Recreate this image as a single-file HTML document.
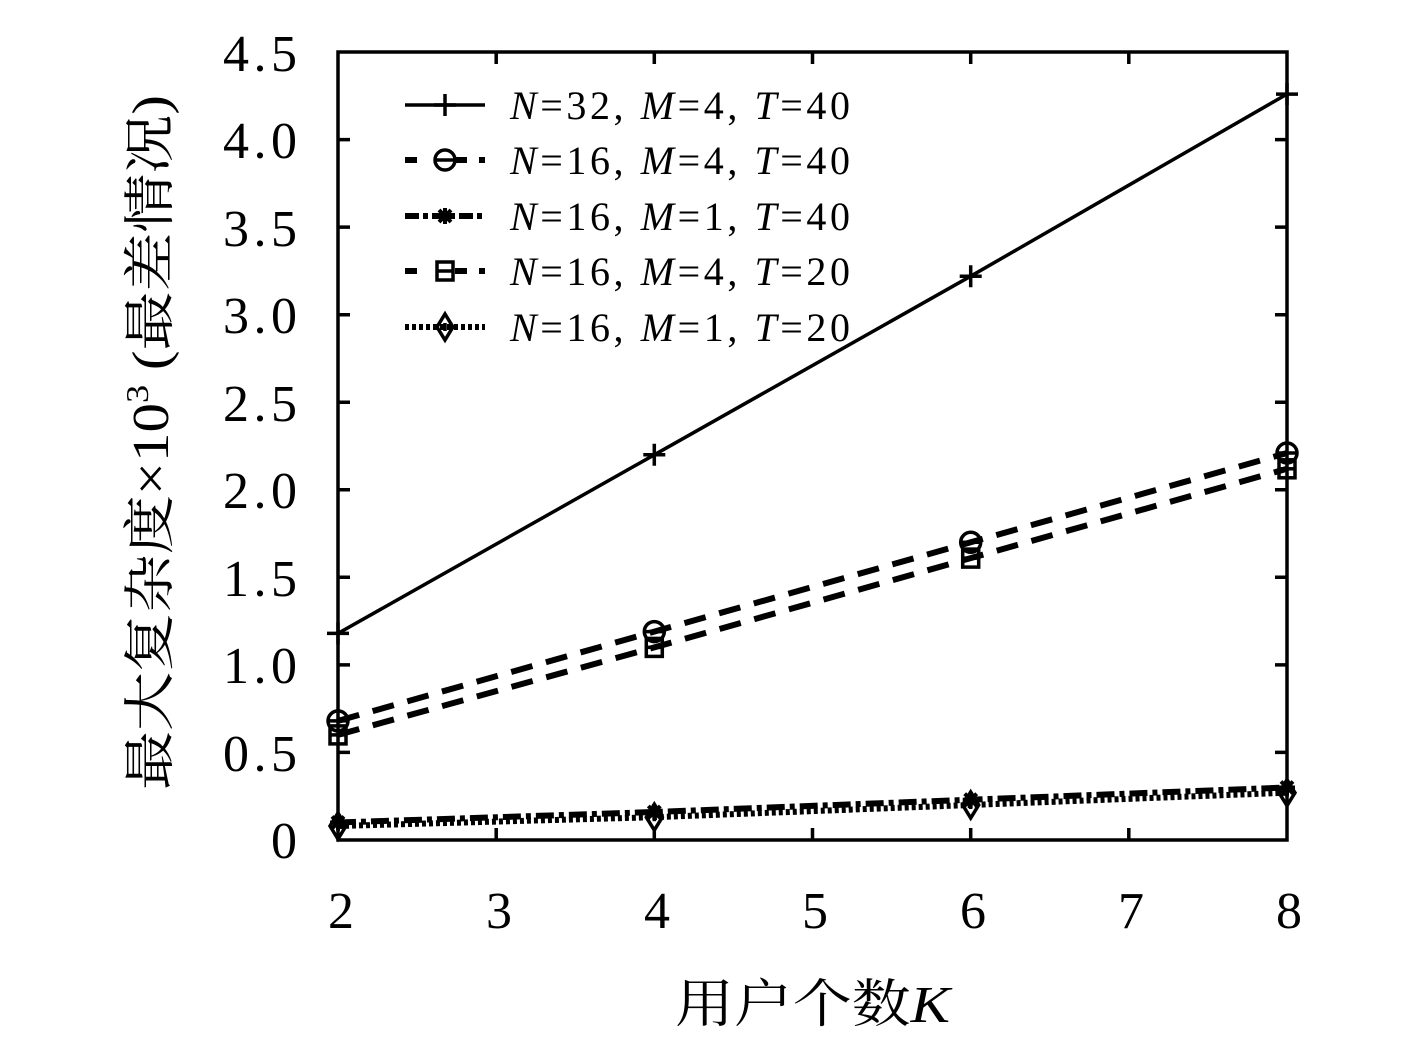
<!DOCTYPE html>
<html><head><meta charset="utf-8"><style>body{margin:0;background:#fff}svg{display:block}</style></head>
<body>
<svg width="1417" height="1063" xmlns="http://www.w3.org/2000/svg" font-family="'Liberation Serif','Noto Serif CJK SC',serif">
<defs>
<g id="plus"><path d="M-11,0H11M0,-11V11" stroke="#000" stroke-width="3.5"/></g>
<g id="circ"><circle r="10" fill="none" stroke="#000" stroke-width="3.5"/><path d="M-10,0H10" stroke="#000" stroke-width="3.5"/></g>
<g id="sq"><rect x="-8" y="-9" width="16" height="18" fill="none" stroke="#000" stroke-width="3.5"/><path d="M-8,0H8" stroke="#000" stroke-width="3.5"/></g>
<g id="star"><path d="M-8,0H8M0,-8V8M-6,-6L6,6M-6,6L6,-6" stroke="#000" stroke-width="4"/></g>
<g id="dia"><path d="M0,-13L8,0L0,13L-8,0Z" fill="none" stroke="#000" stroke-width="3.5"/><path d="M0,-4V4" stroke="#000" stroke-width="3.5"/></g>
</defs>
<g stroke="#000" stroke-width="3.5" fill="none">
<rect x="338" y="52" width="949" height="788"/>
<path d="M496.2,840v-12M654.3,840v-12M812.5,840v-12M970.7,840v-12M1128.8,840v-12M496.2,52v12M654.3,52v12M812.5,52v12M970.7,52v12M1128.8,52v12"/>
<path d="M338,752.4h12M338,664.9h12M338,577.3h12M338,489.8h12M338,402.2h12M338,314.7h12M338,227.1h12M338,139.6h12M1287,752.4h-12M1287,664.9h-12M1287,577.3h-12M1287,489.8h-12M1287,402.2h-12M1287,314.7h-12M1287,227.1h-12M1287,139.6h-12"/>
<polyline points="338,633.4 654.3,454.8 970.7,276.2 1287,94.1" stroke-width="3.5"/>
<polyline points="338,720.9 654.3,631.6 970.7,542.3 1287,453" stroke-width="6" stroke-dasharray="22,14"/>
<polyline points="338,734.9 654.3,647.4 970.7,558.1 1287,468.8" stroke-width="6" stroke-dasharray="22,14"/>
<polyline points="338,822.5 654.3,812 970.7,799.7 1287,787.5" stroke-width="6" stroke-dasharray="18,5,5,5"/>
<polyline points="338,826 654.3,817.2 970.7,805 1287,792.7" stroke-width="6" stroke-dasharray="4,3"/>
<path d="M405,105H485" stroke-width="3.5"/>
<path d="M405,160H485" stroke-width="6" stroke-dasharray="12,18,0,20,12"/>
<path d="M405,216H485" stroke-width="6" stroke-dasharray="14,4,5,4"/>
<path d="M405,271H485" stroke-width="6" stroke-dasharray="12,18,0,20,12"/>
<path d="M405,327H485" stroke-width="6" stroke-dasharray="4,3"/>
</g>
<use href="#plus" x="338" y="633.4"/><use href="#plus" x="654.3" y="454.8"/><use href="#plus" x="970.7" y="276.2"/><use href="#plus" x="1287" y="94.1"/>
<use href="#circ" x="338" y="720.9"/><use href="#circ" x="654.3" y="631.6"/><use href="#circ" x="970.7" y="542.3"/><use href="#circ" x="1287" y="453"/>
<use href="#sq" x="338" y="734.9"/><use href="#sq" x="654.3" y="647.4"/><use href="#sq" x="970.7" y="558.1"/><use href="#sq" x="1287" y="468.8"/>
<use href="#star" x="338" y="822.5"/><use href="#star" x="654.3" y="812"/><use href="#star" x="970.7" y="799.7"/><use href="#star" x="1287" y="787.5"/>
<use href="#dia" x="338" y="826"/><use href="#dia" x="654.3" y="817.2"/><use href="#dia" x="970.7" y="805"/><use href="#dia" x="1287" y="792.7"/>
<use href="#plus" x="445" y="105"/><use href="#circ" x="445" y="160"/><use href="#star" x="445" y="216"/><use href="#sq" x="445" y="271"/><use href="#dia" x="445" y="327"/>
<g font-size="40" font-style="italic">
<text x="510" y="119" textLength="340" lengthAdjust="spacing"><tspan>N</tspan><tspan font-style="normal">=32,  </tspan><tspan>M</tspan><tspan font-style="normal">=4,  </tspan><tspan>T</tspan><tspan font-style="normal">=40</tspan></text>
<text x="510" y="174" textLength="340" lengthAdjust="spacing"><tspan>N</tspan><tspan font-style="normal">=16,  </tspan><tspan>M</tspan><tspan font-style="normal">=4,  </tspan><tspan>T</tspan><tspan font-style="normal">=40</tspan></text>
<text x="510" y="230" textLength="340" lengthAdjust="spacing"><tspan>N</tspan><tspan font-style="normal">=16,  </tspan><tspan>M</tspan><tspan font-style="normal">=1,  </tspan><tspan>T</tspan><tspan font-style="normal">=40</tspan></text>
<text x="510" y="285" textLength="340" lengthAdjust="spacing"><tspan>N</tspan><tspan font-style="normal">=16,  </tspan><tspan>M</tspan><tspan font-style="normal">=4,  </tspan><tspan>T</tspan><tspan font-style="normal">=20</tspan></text>
<text x="510" y="341" textLength="340" lengthAdjust="spacing"><tspan>N</tspan><tspan font-style="normal">=16,  </tspan><tspan>M</tspan><tspan font-style="normal">=1,  </tspan><tspan>T</tspan><tspan font-style="normal">=20</tspan></text>
</g>
<g font-size="52" text-anchor="end">
<text x="297" y="858">0</text><text x="297" y="771" textLength="74">0.5</text><text x="297" y="683" textLength="74">1.0</text><text x="297" y="596" textLength="74">1.5</text><text x="297" y="508" textLength="74">2.0</text><text x="297" y="421" textLength="74">2.5</text><text x="297" y="333" textLength="74">3.0</text><text x="297" y="246" textLength="74">3.5</text><text x="297" y="158" textLength="74">4.0</text><text x="297" y="71" textLength="74">4.5</text>
</g>
<g font-size="52" text-anchor="middle">
<text x="341" y="928">2</text><text x="499" y="928">3</text><text x="657" y="928">4</text><text x="815" y="928">5</text><text x="973" y="928">6</text><text x="1131" y="928">7</text><text x="1289" y="928">8</text>
</g>
<text x="675" y="1022" font-size="52" textLength="275" lengthAdjust="spacingAndGlyphs">用户个数<tspan font-style="italic">K</tspan></text>
<text transform="translate(168,790) rotate(-90)" font-size="52" textLength="695" lengthAdjust="spacingAndGlyphs">最大复杂度×10<tspan font-size="32" dy="-20">3</tspan><tspan dy="20"> (最差情况)</tspan></text>
</svg>
</body></html>
